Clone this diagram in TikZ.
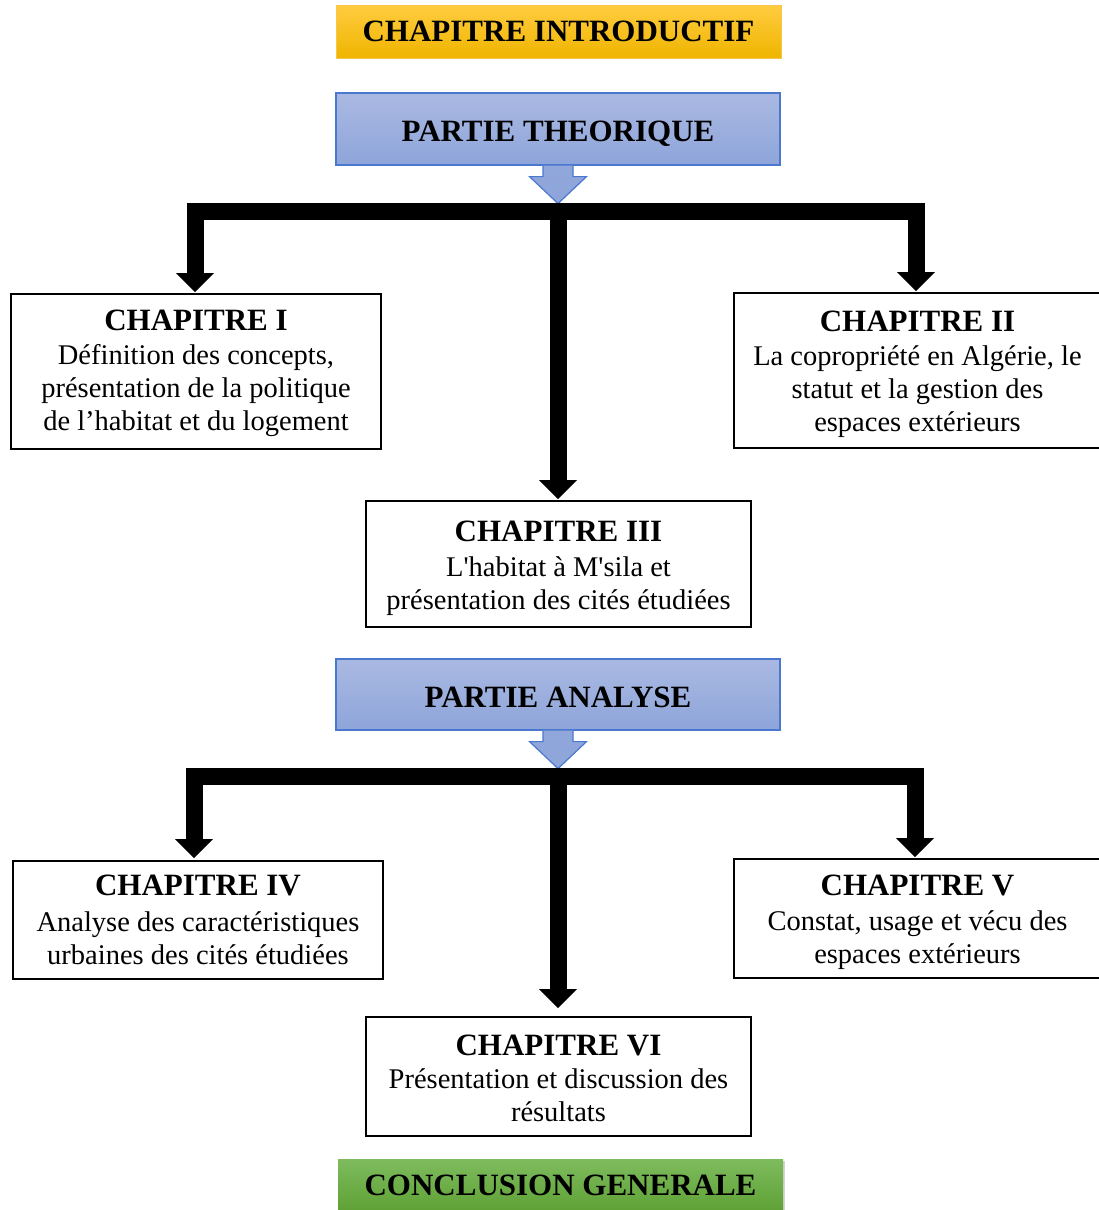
\documentclass[tikz,border=0pt]{standalone}
\usepackage{fontspec}
\setmainfont{Liberation Serif}[Ligatures=TeXOff]
\usetikzlibrary{arrows.meta,calc,shadows}

\definecolor{goldtop}{HTML}{FFCC40}
\definecolor{goldbot}{HTML}{EFB500}
\definecolor{goldline}{HTML}{F7C64A}
\definecolor{bluetop}{HTML}{AAB9E2}
\definecolor{bluebot}{HTML}{8EA5DA}
\definecolor{blueline}{HTML}{4A78CF}
\definecolor{greentop}{HTML}{7EBB5E}
\definecolor{greenbot}{HTML}{5EA134}

\newcommand{\chaptitle}{\fontsize{31}{35}\selectfont\bfseries}
% taller first line, pushes a box's text block slightly down
\newcommand{\toplift}[1]{\rule{0pt}{#1}}

\tikzset{
  banner/.style={minimum width=445pt, minimum height=53pt, inner sep=0pt,
    font=\chaptitle},
  partbox/.style={draw=blueline, line width=1.2pt, top color=bluetop,
    bottom color=bluebot, minimum width=444pt, minimum height=72pt,
    inner sep=0pt, text height=25pt, text depth=0pt, font=\chaptitle},
  chapbox/.style={draw=black, line width=1.8pt, fill=white, align=center,
    inner sep=0pt, font=\fontsize{28.5}{33}\selectfont},
  conn/.style={line width=17pt, line join=miter,
    -{Triangle[width=37pt,length=19pt]}},
}

\begin{document}
\begin{tikzpicture}[x=1pt,y=-1pt]
\useasboundingbox (0,0) rectangle (1099,1210);

% ---- introduction banner
\node[banner, draw=goldline, line width=0.8pt, top color=goldtop,
      bottom color=goldbot] (intro) at (558.5,31.5) {CHAPITRE INTRODUCTIF};

% ---- theoretical part
\node[partbox] (theo) at (558,129) {PARTIE THEORIQUE};
\shade[top color=bluebot!90!bluetop, bottom color=bluebot]
  ($(theo.south)+(-15,0)$) -- ++(0,11) -- ++(-13.5,0)
  -- ($(theo.south)+(0,38)$) -- ($(theo.south)+(28.5,11)$)
  -- ($(theo.south)+(15,11)$) -- ($(theo.south)+(15,0)$) -- cycle;
\draw[blueline, line width=1.2pt, line join=miter]
  ($(theo.south)+(-15,0)$) -- ++(0,11) -- ++(-13.5,0)
  -- ($(theo.south)+(0,38)$) -- ($(theo.south)+(28.5,11)$)
  -- ($(theo.south)+(15,11)$) -- ($(theo.south)+(15,0)$);

\node[chapbox, minimum width=370pt, minimum height=155pt] (ch1) at (196,371.5)
  {{\chaptitle\toplift{25pt}CHAPITRE I}\\[1pt]
   Définition des concepts,\\
   présentation de la politique\\
   de l’habitat et du logement};
\node[chapbox, minimum width=367pt, minimum height=155pt] (ch2) at (917.5,370.5)
  {{\chaptitle\toplift{28.5pt}CHAPITRE II}\\[1pt]
   La copropriété en Algérie, le\\
   statut et la gestion des\\
   espaces extérieurs};
\node[chapbox, minimum width=385pt, minimum height=126pt] (ch3) at (558.5,564)
  {{\chaptitle\toplift{28.5pt}CHAPITRE III}\\[2pt]
   L'habitat à M'sila et\\
   présentation des cités étudiées};

\coordinate (hub1) at ($(theo.south)+(0,46)$);
\draw[conn] (hub1) -| ($(ch1.north)+(-1,-1)$);
\draw[conn] (hub1) -| ($(ch2.north)+(-1.5,-1)$);
\draw[conn] (hub1) -- ($(hub1 |- ch3.north)+(0,-1)$);

% ---- analytical part
\node[partbox, minimum height=71pt] (ana) at (558,694.5) {PARTIE ANALYSE};
\shade[top color=bluebot!90!bluetop, bottom color=bluebot]
  ($(ana.south)+(-15,0)$) -- ++(0,11) -- ++(-13.5,0)
  -- ($(ana.south)+(0,38)$) -- ($(ana.south)+(28.5,11)$)
  -- ($(ana.south)+(15,11)$) -- ($(ana.south)+(15,0)$) -- cycle;
\draw[blueline, line width=1.2pt, line join=miter]
  ($(ana.south)+(-15,0)$) -- ++(0,11) -- ++(-13.5,0)
  -- ($(ana.south)+(0,38)$) -- ($(ana.south)+(28.5,11)$)
  -- ($(ana.south)+(15,11)$) -- ($(ana.south)+(15,0)$);

\node[chapbox, minimum width=370pt, minimum height=118pt] (ch4) at (198,920)
  {{\chaptitle CHAPITRE IV}\\[3pt]
   Analyse des caractéristiques\\
   urbaines des cités étudiées};
\node[chapbox, minimum width=367pt, minimum height=119pt] (ch5) at (917.5,918.5)
  {{\chaptitle\toplift{28.5pt}CHAPITRE V}\\[2pt]
   Constat, usage et vécu des\\
   espaces extérieurs};
\node[chapbox, minimum width=385pt, minimum height=119pt] (ch6) at (558.5,1076.5)
  {{\chaptitle\toplift{23.5pt}CHAPITRE VI}\\[0pt]
   Présentation et discussion des\\
   résultats};

\coordinate (hub2) at ($(ana.south)+(0,46)$);
\draw[conn] (hub2) -| ($(ch4.north)+(-4,-2)$);
\draw[conn] (hub2) -| ($(ch5.north)+(-2.5,-1)$);
\draw[conn] (hub2) -- ($(hub2 |- ch6.north)+(0,-8)$);

% ---- general conclusion
\node[banner, top color=greentop, bottom color=greenbot,
      drop shadow={opacity=0.35, shadow xshift=1.5pt, shadow yshift=-1.5pt}]
  (concl) at (560.5,1185.5) {CONCLUSION GENERALE};
\end{tikzpicture}
\end{document}
